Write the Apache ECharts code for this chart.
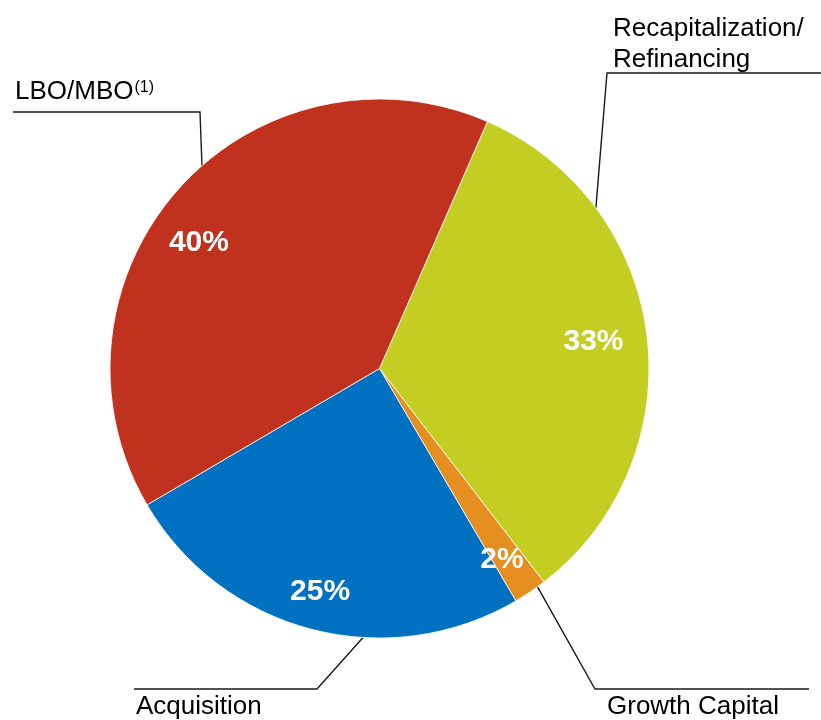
<!DOCTYPE html>
<html>
<head>
<meta charset="utf-8">
<script src="https://cdn.jsdelivr.net/npm/echarts@6/dist/echarts.min.js"></script>
<style>
    html, body { margin: 0; padding: 0; background: #fff; }
    #chart { width: 821px; height: 720px; }
</style>
</head>
<body>
<div id="chart"></div>
<script>
// slices in clockwise order, starting from the top-right boundary
const categories = ["Recapitalization/\nRefinancing", "Growth Capital", "Acquisition", "LBO/MBO"];
const shares = [33, 2, 25, 40];
const footnotes = ["", "", "", "(1)"];
const colors = ["#C4CE22", "#E68F21", "#0070C0", "#C0311E"];

// pie geometry
const CX = 379.5;
const CY = 368.5;
const R = 269.5;
const START = 23.6; // degrees clockwise from 12 o'clock

// inner percentage label tweaks: angle shift and radius fraction
const innerShift = [0, 1.4, 0.3, -6.8];
const innerRadius = [0.80, 0.843, 0.858, 0.816];

// outer callouts: where the leader leaves the pie, the bend, the end and the text
const calloutAngle = [53.4, 144.1, 183.5, 318.8];
const calloutBend = [[607, 73], [595, 689], [317, 689], [200, 112]];
const calloutEnd = [[821, 73], [809, 689], [134, 689], [13, 112]];
const calloutText = [[613, 44], [607, 707], [136, 707], [15, 92]];

function polar(angle, r) {
    const a = angle * Math.PI / 180;
    return [CX + r * Math.sin(a), CY - r * Math.cos(a)];
}

function midAngle(i) {
    let before = 0;
    for (let k = 0; k < i; k++) before += shares[k];
    const total = shares.reduce((s, v) => s + v, 0);
    return START + (before + shares[i] / 2) / total * 360;
}

const pieData = categories.map((name, i) => ({
    name: name,
    value: shares[i],
    itemStyle: { color: colors[i] }
}));

const chart = echarts.init(document.getElementById("chart"), null, { renderer: "canvas" });

chart.setOption({
    backgroundColor: "#fff",
    animation: false,
    series: [
        {
            type: "pie",
            center: [CX, CY],
            radius: R,
            startAngle: 90 - START,
            clockwise: true,
            avoidLabelOverlap: false,
            itemStyle: { borderColor: "#fff", borderWidth: 0.8 },
            label: {
                show: true,
                position: "inside",
                formatter: "{c}%",
                color: "#fff",
                fontFamily: "Liberation Sans",
                fontWeight: "bold",
                fontSize: 30
            },
            labelLine: { show: false },
            labelLayout: function (params) {
                const i = params.dataIndex;
                const p = polar(midAngle(i) + innerShift[i], R * innerRadius[i]);
                return { x: p[0], y: p[1], align: "center", verticalAlign: "middle" };
            },
            data: pieData
        },
        {
            type: "pie",
            center: [CX, CY],
            radius: R,
            startAngle: 90 - START,
            clockwise: true,
            silent: true,
            avoidLabelOverlap: false,
            itemStyle: { color: "rgba(0,0,0,0)", borderWidth: 0 },
            label: {
                show: true,
                position: "outside",
                formatter: function (params) {
                    const note = footnotes[params.dataIndex];
                    return note ? params.name + "{sup|" + note + "}" : params.name;
                },
                color: "#000",
                fontFamily: "Liberation Sans",
                fontSize: 26,
                lineHeight: 31,
                rich: {
                    sup: {
                        fontFamily: "Liberation Sans",
                        fontSize: 16,
                        lineHeight: 16,
                        verticalAlign: "middle",
                        padding: [0, 0, 9, 1],
                        color: "#000"
                    }
                }
            },
            labelLine: {
                show: true,
                lineStyle: { color: "#1a1a1a", width: 1.4 }
            },
            labelLayout: function (params) {
                const i = params.dataIndex;
                return {
                    x: calloutText[i][0],
                    y: calloutText[i][1],
                    align: "left",
                    verticalAlign: "middle",
                    labelLinePoints: [
                        polar(calloutAngle[i], R),
                        calloutBend[i],
                        calloutEnd[i]
                    ]
                };
            },
            data: categories.map((name, i) => ({ name: name, value: shares[i] }))
        }
    ]
});
</script>
</body>
</html>
